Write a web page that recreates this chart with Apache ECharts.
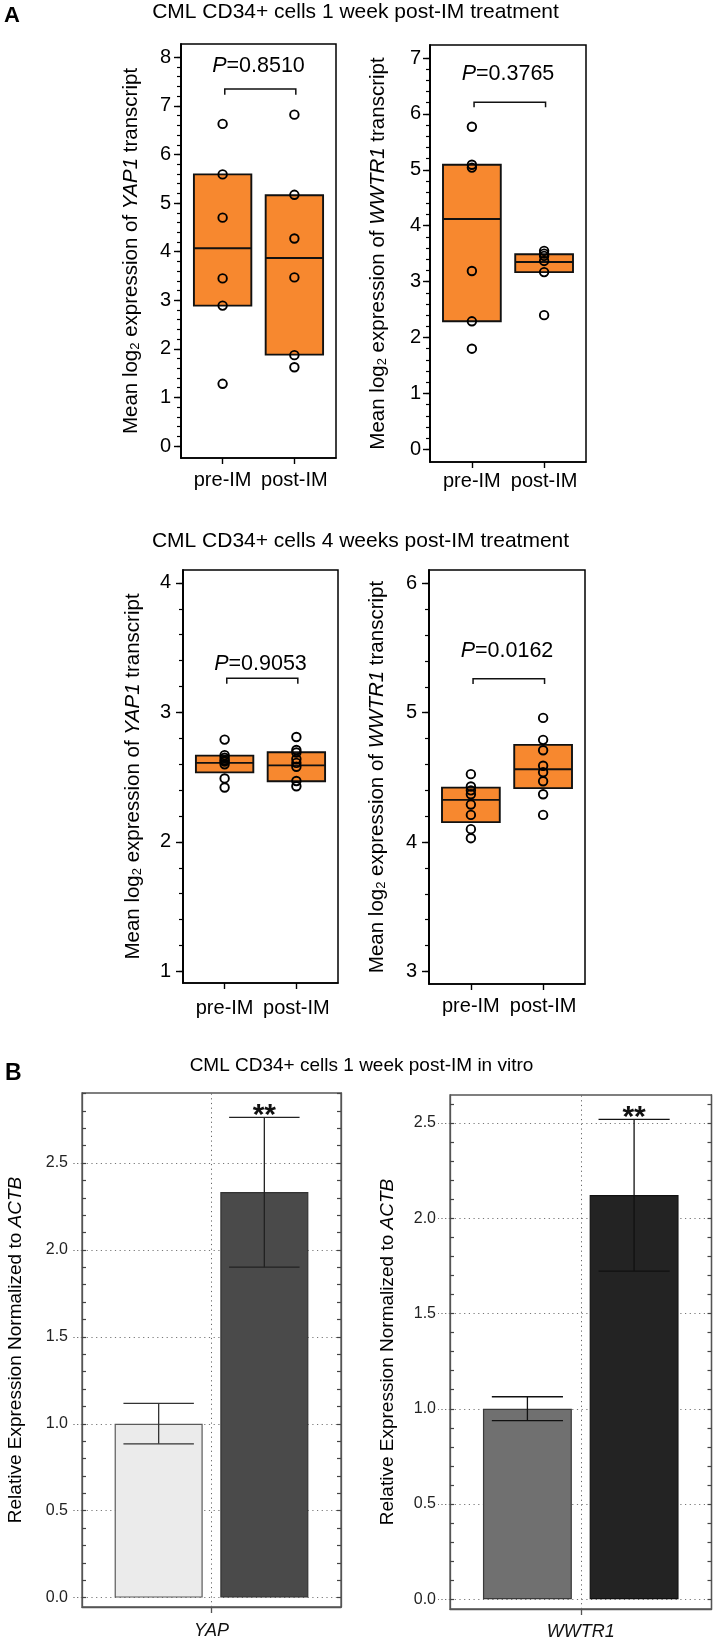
<!DOCTYPE html>
<html><head><meta charset="utf-8">
<script src="https://cdn.jsdelivr.net/npm/echarts@6/dist/echarts.min.js"></script>
<style>html,body{margin:0;padding:0;background:#fff}#c{width:714px;height:1642px}</style>
</head><body><div id="c"></div>
<script>
const FONT = '"Liberation Sans", Arial, Helvetica, sans-serif';

// ---------------- Panel A data ----------------
const groupsA = ['pre-IM', 'post-IM'];
const groupPosA = [1, 2];

// 1 week post-IM, YAP1
const yap1wPre  = [6.63, 5.59, 4.70, 3.45, 2.89, 1.28];
const yap1wPost = [6.82, 5.17, 4.27, 3.47, 1.87, 1.62];
const yap1wBox  = [[2.89, 4.07, 5.59], [1.88, 3.87, 5.16]];   // [low, median, high]
const yap1wTicks = [0, 1, 2, 3, 4, 5, 6, 7, 8];

// 1 week post-IM, WWTR1
const wwtr1wPre  = [5.77, 5.09, 5.04, 3.19, 2.29, 1.80];
const wwtr1wPost = [3.55, 3.50, 3.46, 3.37, 3.17, 2.40];
const wwtr1wBox  = [[2.29, 4.12, 5.09], [3.17, 3.35, 3.49]];
const wwtr1wTicks = [0, 1, 2, 3, 4, 5, 6, 7];

// 4 weeks post-IM, YAP1
const yap4wPre  = [2.79, 2.67, 2.65, 2.63, 2.62, 2.60, 2.49, 2.42];
const yap4wPost = [2.81, 2.71, 2.69, 2.64, 2.61, 2.58, 2.47, 2.43];
const yap4wBox  = [[2.537, 2.61, 2.666], [2.468, 2.591, 2.692]];
const yap4wTicks = [1, 2, 3, 4];

// 4 weeks post-IM, WWTR1
const wwtr4wPre  = [4.525, 4.43, 4.40, 4.37, 4.29, 4.21, 4.10, 4.03];
const wwtr4wPost = [4.96, 4.79, 4.71, 4.59, 4.54, 4.47, 4.37, 4.21];
const wwtr4wBox  = [[4.154, 4.326, 4.421], [4.417, 4.563, 4.751]];
const wwtr4wTicks = [3, 4, 5, 6];

// P-values and bracket annotations
const pValues     = ['0.8510', '0.3765', '0.9053', '0.0162'];
const bracketX    = [1.03, 2.02];
const bracketTop  = [7.35, 6.21, 3.263, 5.263];
const bracketEnd  = [7.23, 6.12, 3.222, 5.222];
const pLabelY     = [7.825, 6.708, 3.375, 5.473];

// ---------------- Panel B data ----------------
const genesB = ['YAP', 'WWTR1'];
const yapMean      = [1.0, 2.333];
const yapErrLow    = [0.885, 1.901];
const yapErrHigh   = [1.117, 2.763];
const wwtr1Mean    = [1.0, 2.122];
const wwtr1ErrLow  = [0.938, 1.723];
const wwtr1ErrHigh = [1.063, 2.519];
const sigB = ['', '**'];
const ticksB = [0, 0.5, 1.0, 1.5, 2.0, 2.5];

// ---------------- layout / style ----------------
const ORANGE = '#F7882F';
const BOX_W = 0.8;           // box width in x units
const BAR_FRAC = 0.34, GAP_FRAC = 0.2;

function minorTicks(a, b, step) {
  const out = []; const n = Math.round((b - a) / step);
  for (let k = 0; k <= n; k++) out.push(+(a + k * step).toFixed(4));
  return out;
}

const grids = [], xAxes = [], yAxes = [], series = [];

const layoutA = [
  {left:181, top:44,  width:155, height:414, min:-0.247, max:8.274, nameGap:39,   labelMargin:10, xMargin:12},
  {left:430, top:45,  width:156, height:417, min:-0.227, max:7.233, nameGap:41.5, labelMargin:9,  xMargin:9},
  {left:183, top:570, width:155, height:413, min:0.910,  max:4.100, nameGap:39.5, labelMargin:12, xMargin:15},
  {left:429, top:570, width:156, height:414, min:2.903,  max:6.103, nameGap:41,   labelMargin:12, xMargin:12}
];
const dataA = [
  {gene:'YAP1',  pre:yap1wPre,  post:yap1wPost,  box:yap1wBox,  ticks:yap1wTicks},
  {gene:'WWTR1', pre:wwtr1wPre, post:wwtr1wPost, box:wwtr1wBox, ticks:wwtr1wTicks},
  {gene:'YAP1',  pre:yap4wPre,  post:yap4wPost,  box:yap4wBox,  ticks:yap4wTicks},
  {gene:'WWTR1', pre:wwtr4wPre, post:wwtr4wPost, box:wwtr4wBox, ticks:wwtr4wTicks}
];

function txt(size, extra) {
  return Object.assign({fontSize:size, fontFamily:FONT, color:'#000'}, extra || {});
}

dataA.forEach((D, k) => {
  const L = layoutA[k];
  const gi = grids.length;
  grids.push({left:L.left, top:L.top, width:L.width, height:L.height, show:true,
    borderColor:'#000', borderWidth:1.5, backgroundColor:'rgba(0,0,0,0)', containLabel:false, outerBoundsMode:'none'});
  const xi = xAxes.length;
  xAxes.push({gridIndex:gi, type:'value', min:0.42, max:2.58,
    axisLine:{show:true, onZero:false, lineStyle:{color:'#000', width:1.5}}, splitLine:{show:false},
    axisTick:{show:true, customValues:groupPosA, length:6, lineStyle:{color:'#000', width:1.4}},
    axisLabel:{show:true, customValues:groupPosA, formatter:v => groupsA[Math.round(v) - 1],
      fontSize:20, fontFamily:FONT, color:'#000', margin:L.xMargin}});
  const yi = yAxes.length;
  yAxes.push({gridIndex:gi, type:'value', position:'left', min:L.min, max:L.max,
    axisLine:{show:true, onZero:false, lineStyle:{color:'#000', width:1.5}}, splitLine:{show:false},
    axisTick:{show:true, customValues:D.ticks, length:7, lineStyle:{color:'#000', width:1.4}},
    axisLabel:{show:true, customValues:D.ticks, fontSize:20, fontFamily:FONT, color:'#000', margin:L.labelMargin},
    name:'{n|Mean log}{s|2}{n| expression of }{i|' + D.gene + '}{n| transcript}',
    nameLocation:'middle', nameRotate:90, nameGap:L.nameGap, nameMoveOverlap:false,
    nameTextStyle:txt(20.5, {rich:{
      n:txt(20.5),
      s:txt(13, {lineHeight:6, verticalAlign:'bottom'}),
      i:txt(20.5, {fontStyle:'italic'})
    }})});
  yAxes.push({gridIndex:gi, type:'value', position:'left', min:L.min, max:L.max,
    axisLine:{show:true, onZero:false, lineStyle:{color:'#000', width:1.5}}, splitLine:{show:false}, axisLabel:{show:false},
    axisTick:{show:true, customValues:minorTicks(D.ticks[0], D.ticks[D.ticks.length-1], 0.2),
      length:4, lineStyle:{color:'#000', width:1.2}}});

  // boxes
  series.push({type:'custom', xAxisIndex:xi, yAxisIndex:yi, z:2, clip:false,
    data:groupPosA.map((x, j) => [x, D.box[j][0], D.box[j][1], D.box[j][2]]),
    encode:{x:0, y:[1, 2, 3]},
    renderItem:(params, api) => {
      const x = api.value(0);
      const p1 = api.coord([x - BOX_W / 2, api.value(3)]);
      const p2 = api.coord([x + BOX_W / 2, api.value(1)]);
      const pm = api.coord([x, api.value(2)]);
      return {type:'group', children:[
        {type:'rect', shape:{x:p1[0], y:p1[1], width:p2[0]-p1[0], height:p2[1]-p1[1]},
          style:{fill:ORANGE, stroke:'#111', lineWidth:1.9}},
        {type:'line', shape:{x1:p1[0], y1:pm[1], x2:p2[0], y2:pm[1]},
          style:{stroke:'#111', lineWidth:1.9}}
      ]};
    }});
  // points
  [D.pre, D.post].forEach((vals, j) => {
    series.push({type:'scatter', xAxisIndex:xi, yAxisIndex:yi, z:3,
      data:vals.map(v => [groupPosA[j], v]),
      symbol:'circle', symbolSize:8.5,
      itemStyle:{color:'rgba(0,0,0,0)', borderColor:'#000', borderWidth:1.9, opacity:1},
      emphasis:{disabled:true}});
  });
  // bracket + P label
  series.push({type:'custom', xAxisIndex:xi, yAxisIndex:yi, z:4, clip:false,
    data:[[bracketX[0], bracketX[1], bracketTop[k], bracketEnd[k], 1.5, pLabelY[k]]],
    encode:{x:[0, 1, 4], y:[2, 3, 5]},
    renderItem:(params, api) => {
      const a = api.coord([api.value(0), api.value(3)]);
      const b = api.coord([api.value(0), api.value(2)]);
      const c = api.coord([api.value(1), api.value(2)]);
      const d = api.coord([api.value(1), api.value(3)]);
      const t = api.coord([api.value(4), api.value(5)]);
      return {type:'group', children:[
        {type:'polyline', shape:{points:[a, b, c, d]}, style:{stroke:'#111', lineWidth:1.5, fill:null}},
        {type:'text', x:t[0], y:t[1], style:{
          text:'{i|P}{n|=' + pValues[k] + '}',
          align:'center', verticalAlign:'middle', textAlign:'center', textVerticalAlign:'middle',
          rich:{
            i:{fontStyle:'italic', fontSize:21.5, fontFamily:FONT, fill:'#000'},
            n:{fontStyle:'normal', fontSize:21.5, fontFamily:FONT, fill:'#000'}
          }}}
      ]};
    }});
});

// ---------------- Panel B ----------------
const layoutB = [
  {left:82,  top:1093, width:259,   height:514, min:-0.054, max:2.903, nameGap:57, labelMargin:14, xMargin:15,
   colors:['#EBEBEB', '#4A4A4A'], borders:['#5A5A5A', '#333333'], errColor:['#333', '#222'], tickLen:10},
  {left:450, top:1095, width:261.5, height:514, min:-0.051, max:2.647, nameGap:53, labelMargin:14, xMargin:14,
   colors:['#707070', '#232323'], borders:['#3A3A3A', '#111111'], errColor:['#111', '#111'], tickLen:12}
];
const dataB = [
  {gene:genesB[0], mean:yapMean,   lo:yapErrLow,   hi:yapErrHigh},
  {gene:genesB[1], mean:wwtr1Mean, lo:wwtr1ErrLow, hi:wwtr1ErrHigh}
];

dataB.forEach((D, k) => {
  const L = layoutB[k];
  const gi = grids.length;
  grids.push({left:L.left, top:L.top, width:L.width, height:L.height, show:true,
    borderColor:'#555', borderWidth:1.3, backgroundColor:'rgba(0,0,0,0)', containLabel:false, outerBoundsMode:'none'});
  const xi = xAxes.length;
  xAxes.push({gridIndex:gi, type:'category', data:[D.gene],
    axisLine:{show:true, onZero:false, lineStyle:{color:'#555', width:1.3}}, splitLine:{show:false},
    axisTick:{show:true, alignWithLabel:true, length:6, lineStyle:{color:'#555', width:1.3}},
    axisLabel:{fontSize:18, fontStyle:'italic', fontFamily:FONT, color:'#111', margin:L.xMargin}});
  const yi = yAxes.length;
  yAxes.push({gridIndex:gi, type:'value', position:'left', min:L.min, max:L.max,
    axisLine:{show:true, onZero:false, lineStyle:{color:'#555', width:1.3}},
    splitLine:{show:true, lineStyle:{color:'#777', width:1, type:[1.2, 3.5]}},
    axisTick:{show:true, customValues:ticksB, length:L.tickLen, lineStyle:{color:'#666', width:1.2, type:[1.2, 2.5]}},
    axisLabel:{show:true, customValues:ticksB, formatter:v => v.toFixed(1),
      fontSize:16, fontFamily:FONT, color:'#222', margin:L.labelMargin},
    name:'{n|Relative Expression Normalized to }{i|ACTB}',
    nameLocation:'middle', nameRotate:90, nameGap:L.nameGap, nameMoveOverlap:false,
    nameTextStyle:txt(19, {rich:{n:txt(19), i:txt(19, {fontStyle:'italic'})}})});
  const minorB = minorTicks(0, 2.9, 0.1).filter(v => v <= L.max);
  yAxes.push({gridIndex:gi, type:'value', position:'left', min:L.min, max:L.max,
    axisLine:{show:false, onZero:false}, splitLine:{show:false}, axisLabel:{show:false},
    axisTick:{show:true, inside:true, customValues:minorB, length:4, lineStyle:{color:'#444', width:1.2}}});
  yAxes.push({gridIndex:gi, type:'value', position:'right', min:L.min, max:L.max,
    axisLine:{show:true, onZero:false, lineStyle:{color:'#555', width:1.3}}, splitLine:{show:false}, axisLabel:{show:false},
    axisTick:{show:true, inside:true, customValues:minorB, length:4, lineStyle:{color:'#444', width:1.2}}});

  // vertical dotted guide at the category centre (on a non-bar series so it is not offset)
  series.push({type:'line', xAxisIndex:xi, yAxisIndex:yi, data:[], z:1, silent:true,
    markLine:{silent:true, symbol:'none', label:{show:false}, animation:false,
      lineStyle:{color:'#666', width:1, type:[1.2, 3.5]}, emphasis:{disabled:true},
      data:[{xAxis:D.gene}]}});

  D.mean.forEach((v, j) => {
    series.push({type:'bar', xAxisIndex:xi, yAxisIndex:yi, z:2, data:[v],
      barWidth:(BAR_FRAC * 100) + '%', barGap:(GAP_FRAC * 100) + '%',
      itemStyle:{color:L.colors[j], borderColor:L.borders[j], borderWidth:1.2},
      emphasis:{disabled:true}});
  });
  // error bars and significance marks
  series.push({type:'custom', xAxisIndex:xi, yAxisIndex:yi, z:5, clip:false,
    data:D.mean.map((v, j) => [0, D.lo[j], D.hi[j], j]),
    encode:{x:0, y:[1, 2]},
    renderItem:(params, api) => {
      const j = api.value(3);
      const band = api.size([1, 0])[0];
      const off = (j === 0 ? -1 : 1) * band * BAR_FRAC * (1 + GAP_FRAC) / 2;
      const capHalf = band * BAR_FRAC * 0.8 / 2;
      const lo = api.coord([api.value(0), api.value(1)]);
      const hi = api.coord([api.value(0), api.value(2)]);
      const x = lo[0] + off;
      const col = L.errColor[j];
      const children = [
        {type:'line', shape:{x1:x, y1:hi[1], x2:x, y2:lo[1]}, style:{stroke:col, lineWidth:1.3}},
        {type:'line', shape:{x1:x-capHalf, y1:hi[1], x2:x+capHalf, y2:hi[1]}, style:{stroke:col, lineWidth:1.3}},
        {type:'line', shape:{x1:x-capHalf, y1:lo[1], x2:x+capHalf, y2:lo[1]}, style:{stroke:col, lineWidth:1.3}}
      ];
      if (sigB[j]) {
        children.push({type:'text', x:x, y:hi[1] - 2, style:{text:sigB[j],
          font:'bold 30px ' + FONT, fill:'#111',
          align:'center', verticalAlign:'middle', textAlign:'center', textVerticalAlign:'middle'}});
      }
      return {type:'group', children};
    }});
});

// ---------------- titles ----------------
function gtext(x, y, text, font, align) {
  return {type:'text', x:x, y:y, silent:true, style:{text, font, fill:'#000',
    align:align || 'center', verticalAlign:'middle', textAlign:align || 'center', textVerticalAlign:'middle'}};
}
const graphics = [
  gtext(4, 16, 'A', 'bold 22px ' + FONT, 'left'),
  gtext(355.5, 12, 'CML CD34+ cells 1 week post-IM treatment', '21px ' + FONT),
  gtext(360.5, 541, 'CML CD34+ cells 4 weeks post-IM treatment', '21px ' + FONT),
  gtext(5, 1074, 'B', 'bold 23px ' + FONT, 'left'),
  gtext(361.5, 1065.5, 'CML CD34+ cells 1 week post-IM in vitro', '19px ' + FONT)
];

const chart = echarts.init(document.getElementById('c'), null, {renderer:'canvas', width:714, height:1642});
chart.setOption({
  backgroundColor:'#fff',
  animation:false,
  textStyle:{fontFamily:FONT},
  grid:grids, xAxis:xAxes, yAxis:yAxes, series:series,
  graphic:graphics
});
</script>
</body></html>
